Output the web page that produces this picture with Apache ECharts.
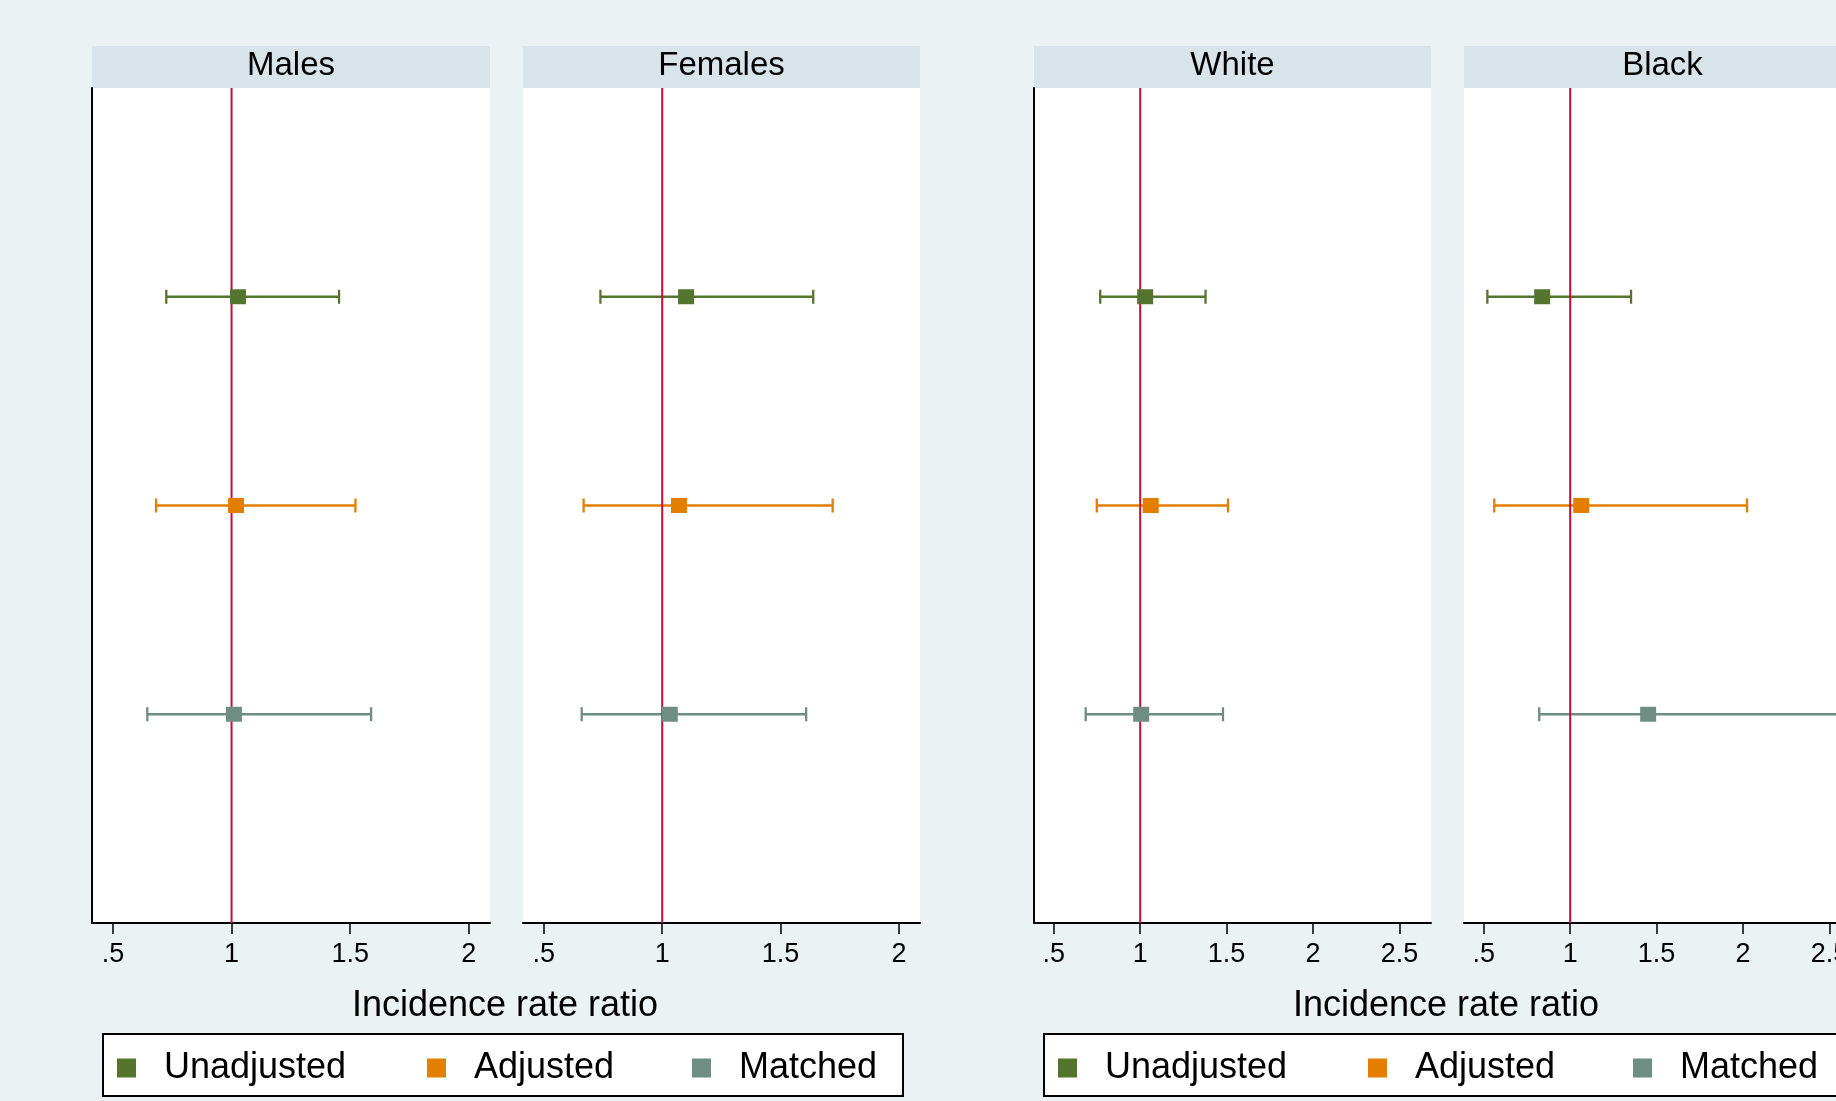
<!DOCTYPE html>
<html><head><meta charset="utf-8">
<script src="https://cdn.jsdelivr.net/npm/echarts@6/dist/echarts.min.js"></script>
<style>html,body{margin:0;padding:0;background:#eaf2f3}#c{width:1836px;height:1101px}</style>
</head><body><div id="c"></div>
<script>
// ---- data ----
const panels = ['Males', 'Females', 'White', 'Black'];
const methods = ['Unadjusted', 'Adjusted', 'Matched'];
const unadjIRR = [1.027, 1.101, 1.029, 0.838];
const unadjLo  = [0.725, 0.739, 0.769, 0.521];
const unadjHi  = [1.453, 1.638, 1.378, 1.352];
const adjIRR   = [1.019, 1.071, 1.061, 1.064];
const adjLo    = [0.682, 0.668, 0.749, 0.561];
const adjHi    = [1.522, 1.720, 1.508, 2.023];
const matIRR   = [1.010, 1.032, 1.006, 1.451];
const matLo    = [0.645, 0.660, 0.685, 0.821];
const matHi    = [1.588, 1.608, 1.479, 2.557];
const rowPos = [3, 2, 1];               // vertical slot of each method
const leftTicks = [0.5, 1, 1.5, 2];
const rightTicks = [0.5, 1, 1.5, 2, 2.5];
const refValue = 1;
const axisTitle = 'Incidence rate ratio';

// ---- styling / layout ----
const FONT = "'Liberation Sans', Arial, Helvetica, sans-serif";
const colors = ['#55752f', '#e37e00', '#6e8e84'];
const refColor = '#c90e35';
const headerFill = '#d8e4e9';
const IRR = [unadjIRR, adjIRR, matIRR];
const LO = [unadjLo, adjLo, matLo];
const HI = [unadjHi, adjHi, matHi];

const gridBoxes = [
  {left: 92, top: 88, width: 398, height: 835},
  {left: 523, top: 88, width: 397, height: 835},
  {left: 1034, top: 88, width: 397, height: 835},
  {left: 1464, top: 88, width: 397, height: 835}
];
const xRanges = [[0.412, 2.089], [0.412, 2.089], [0.386, 2.682], [0.386, 2.682]];
const tickSets = [leftTicks, leftTicks, rightTicks, rightTicks];

const fmt = v => (v < 1 ? String(v).replace(/^0/, '') : String(v));

const grid = gridBoxes.map(b => Object.assign({show: true, backgroundColor: '#fff', borderWidth: 0, containLabel: false, outerBoundsMode: 'none'}, b));

const xAxis = gridBoxes.map((b, i) => ({
  gridIndex: i, type: 'value', min: xRanges[i][0], max: xRanges[i][1],
  axisLine: {show: true, onZero: false, lineStyle: {color: '#000', width: 2}},
  axisTick: {show: true, customValues: tickSets[i], length: 11, lineStyle: {color: '#000', width: 1.5}},
  axisLabel: {show: true, customValues: tickSets[i], formatter: v => fmt(v), fontSize: 27, color: '#000', margin: 18, fontFamily: FONT, hideOverlap: false},
  splitLine: {show: false}
}));

const yAxis = gridBoxes.map((b, i) => ({
  gridIndex: i, type: 'value', min: 0, max: 4,
  axisLine: {show: i === 0 || i === 2, onZero: false, lineStyle: {color: '#000', width: 2}},
  axisTick: {show: false}, axisLabel: {show: false}, splitLine: {show: false}
}));

const series = [];
panels.forEach((p, i) => {
  methods.forEach((m, k) => {
    const col = colors[k];
    series.push({
      name: m, type: 'custom', xAxisIndex: i, yAxisIndex: i, z: 2, silent: true,
      itemStyle: {color: col},
      encode: {x: [0, 1], y: 2},
      data: [[LO[k][i], HI[k][i], rowPos[k]]],
      renderItem: (params, api) => {
        const lo = api.coord([api.value(0), api.value(2)]);
        const hi = api.coord([api.value(1), api.value(2)]);
        const c = 7;
        const st = {stroke: col, lineWidth: 2.3};
        return {type: 'group', children: [
          {type: 'line', shape: {x1: lo[0], y1: lo[1], x2: hi[0], y2: hi[1]}, style: st},
          {type: 'line', shape: {x1: lo[0], y1: lo[1] - c, x2: lo[0], y2: lo[1] + c}, style: st},
          {type: 'line', shape: {x1: hi[0], y1: hi[1] - c, x2: hi[0], y2: hi[1] + c}, style: st}
        ]};
      }
    });
  });
  series.push({
    type: 'line', xAxisIndex: i, yAxisIndex: i, z: 3, silent: true, symbol: 'none',
    lineStyle: {color: refColor, width: 2},
    data: [[refValue, 0], [refValue, 4]]
  });
  methods.forEach((m, k) => {
    series.push({
      name: m, type: 'scatter', xAxisIndex: i, yAxisIndex: i, z: 4, silent: true,
      symbol: 'rect', symbolSize: [16, 15],
      itemStyle: {color: colors[k], opacity: 1},
      data: [[IRR[k][i], rowPos[k]]]
    });
  });
});

// legends: one component per item for exact placement
const legendLefts = [117, 427, 692];
const legendOffsets = [0, 941];
const legend = [];
legendOffsets.forEach(off => {
  methods.forEach((m, k) => {
    legend.push({
      left: legendLefts[k] + off, top: 1050, padding: 0, orient: 'horizontal',
      itemWidth: 19, itemHeight: 19, icon: 'rect', selectedMode: false,
      data: [{name: m, icon: 'rect', itemStyle: {color: colors[k], opacity: 1}}],
      textStyle: {fontSize: 36, color: '#000', fontFamily: FONT, padding: [0, 0, 0, 23]}
    });
  });
});

const graphic = [];
gridBoxes.forEach((b, i) => {
  graphic.push({type: 'rect', silent: true, shape: {x: b.left, y: 46, width: b.width, height: 42}, style: {fill: headerFill}});
  graphic.push({type: 'text', silent: true, style: {text: panels[i], x: b.left + b.width / 2, y: 66, align: 'center', verticalAlign: 'middle', fontSize: 33, fontFamily: FONT, fill: '#000'}});
});
[[505, 0], [1446, 1]].forEach(([cx]) => {
  graphic.push({type: 'text', silent: true, style: {text: axisTitle, x: cx, y: 1006, align: 'center', verticalAlign: 'middle', fontSize: 36, fontFamily: FONT, fill: '#000'}});
});
legendOffsets.forEach(off => {
  graphic.push({type: 'rect', silent: true, z: -1, shape: {x: 103 + off, y: 1034, width: 800, height: 62}, style: {fill: '#fff', stroke: '#000', lineWidth: 2}});
});

const chart = echarts.init(document.getElementById('c'));
chart.setOption({
  backgroundColor: '#eaf2f3',
  animation: false,
  grid, xAxis, yAxis, series, legend, graphic
});
</script>
</body></html>
